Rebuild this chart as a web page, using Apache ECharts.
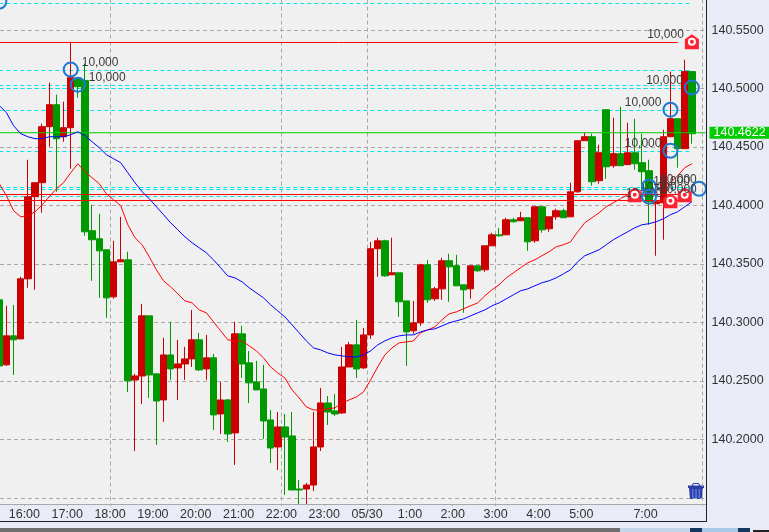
<!DOCTYPE html>
<html><head><meta charset="utf-8">
<style>html,body{margin:0;padding:0;background:#e9ecf6;overflow:hidden}#c{width:769px;height:532px}</style>
<script src="https://cdn.jsdelivr.net/npm/echarts@6/dist/echarts.min.js"></script>
</head><body><div id="c"></div>
<script>
const base = 140;
const opens = [.3193,.2637,.2885,.2859,.3373,.4075,.4195,.4674,.4862,.4588,.4665,.5085,.5068,.3784,.3715,.3621,.3219,.3518,.3535,.2508,.2542,.3056,.2560,.2337,.2722,.2611,.2645,.2688,.2851,.2602,.2697,.2217,.2337,.2055,.2902,.2654,.2491,.2431,.2166,.1935,.2106,.2029,.1575,.1575,.1609,.1935,.2311,.2243,.2226,.2619,.2808,.2611,.2893,.3630,.3698,.3407,.3424,.3184,.2928,.2996,.3493,.3202,.3287,.3527,.3484,.3321,.3287,.3484,.3450,.3655,.3749,.3749,.3878,.3869,.3895,.3698,.3989,.3801,.3903,.3955,.3903,.4117,.4554,.4588,.4212,.4819,.4340,.4443,.4349,.4451,.4366,.4297,.4015,.4023,.4588,.4742,.4486,.5145];
const closes = [.2628,.2885,.2851,.3373,.4075,.4195,.4674,.4862,.4571,.4665,.5093,.5016,.3775,.3707,.3612,.3210,.3518,.3535,.2500,.2542,.3056,.2551,.2328,.2722,.2602,.2645,.2688,.2851,.2594,.2697,.2209,.2337,.2046,.2902,.2645,.2483,.2423,.2157,.1926,.2106,.2020,.1567,.1567,.1609,.1935,.2311,.2234,.2217,.2619,.2808,.2602,.2893,.3630,.3698,.3398,.3424,.3176,.2919,.2996,.3493,.3193,.3287,.3527,.3475,.3313,.3279,.3484,.3441,.3655,.3749,.3741,.3878,.3861,.3895,.3689,.3989,.3792,.3903,.3955,.3895,.4117,.4554,.4588,.4203,.4451,.4331,.4443,.4340,.4451,.4357,.4289,.4032,.4032,.4588,.4742,.4486,.5145,.4614];
const lows = [.2619,.2628,.2551,.2859,.3296,.3279,.3938,.4503,.4117,.4545,.4314,.4922,.3741,.3356,.3210,.3039,.3202,.3518,.2405,.1900,.2303,.2354,.1952,.2149,.2508,.2337,.2508,.2619,.2585,.2508,.2080,.2046,.1977,.1781,.2525,.2311,.2423,.2003,.1798,.1738,.1524,.1567,.1447,.1447,.1558,.1900,.2123,.2200,.2217,.2619,.2525,.2602,.2859,.3390,.3390,.3407,.3047,.2628,.2902,.2970,.3167,.3184,.3193,.3176,.3313,.3082,.3202,.3433,.3433,.3655,.3732,.3749,.3852,.3869,.3612,.3681,.3767,.3775,.3878,.3895,.3903,.4109,.4554,.4169,.4186,.4229,.4323,.4340,.4349,.4306,.4135,.3835,.3570,.3707,.4588,.4323,.4486,.4528];
const highs = [.3193,.3142,.3150,.3390,.4391,.4195,.4700,.5051,.4948,.4888,.5401,.5085,.5213,.4006,.3929,.3621,.3698,.3903,.3604,.2560,.3159,.3056,.2560,.2868,.3005,.2851,.2791,.3107,.2911,.2893,.2731,.2491,.2346,.3005,.2970,.2756,.2671,.2637,.2251,.2234,.2217,.2234,.1652,.1627,.2234,.2440,.2371,.2388,.2791,.2833,.3022,.2953,.3689,.3724,.3707,.3724,.3424,.3184,.3184,.3501,.3535,.3304,.3553,.3587,.3578,.3321,.3484,.3484,.3655,.3767,.3809,.3895,.3895,.3946,.3895,.3989,.3989,.3903,.3972,.3972,.4195,.4554,.4623,.4614,.4520,.4819,.4751,.4845,.4708,.4742,.4614,.4391,.4135,.4648,.5145,.4742,.5247,.5145];
const maFast = [.4186,.4083,.3955,.3903,.3912,.3946,.4006,.4075,.4143,.4195,.4280,.4357,.4289,.4237,.4186,.4100,.4049,.3998,.3835,.3724,.3664,.3561,.3450,.3356,.3304,.3244,.3184,.3167,.3107,.3082,.3005,.2928,.2851,.2842,.2842,.2799,.2756,.2697,.2619,.2568,.2525,.2423,.2354,.2277,.2251,.2251,.2260,.2269,.2311,.2337,.2363,.2405,.2508,.2619,.2722,.2782,.2825,.2833,.2842,.2911,.2936,.2962,.3022,.3073,.3090,.3116,.3142,.3167,.3227,.3279,.3321,.3381,.3424,.3467,.3510,.3535,.3570,.3604,.3647,.3664,.3689,.3775,.3852,.3895,.3938,.3989,.4023,.4058,.4092,.4117,.4126,.4135,.4135,.4169,.4195,.4254,.4323,.4357];
const maSlow = [.4854,.4794,.4682,.4614,.4588,.4571,.4571,.4588,.4588,.4588,.4605,.4631,.4597,.4545,.4494,.4434,.4400,.4366,.4280,.4195,.4117,.4058,.3989,.3921,.3852,.3792,.3732,.3681,.3638,.3595,.3535,.3467,.3398,.3381,.3347,.3296,.3253,.3210,.3150,.3099,.3047,.2979,.2911,.2842,.2782,.2765,.2739,.2722,.2714,.2705,.2705,.2722,.2756,.2808,.2842,.2868,.2885,.2893,.2893,.2919,.2936,.2945,.2970,.2996,.3013,.3030,.3056,.3082,.3107,.3142,.3167,.3202,.3236,.3270,.3287,.3313,.3339,.3356,.3381,.3415,.3450,.3518,.3570,.3595,.3621,.3664,.3707,.3741,.3775,.3809,.3835,.3844,.3861,.3886,.3921,.3946,.3989,.4032];
const tickLabels = ['16:00','17:00','18:00','19:00','20:00','21:00','22:00','23:00','05/30','1:00','2:00','3:00','4:00','5:00','7:00'];
const tickSlots = [4,10,16,22,28,34,40,46,52,58,64,70,76,82,91];
const dashedTimes = ['18:00','22:00','05/30','3:00'];
const priceTicks = [140.15,140.20,140.25,140.30,140.35,140.40,140.45,140.50,140.55];
const priceLabels = [140.20,140.25,140.30,140.35,140.40,140.45,140.50,140.55];
const currentPrice = 140.4622;
const redLevels = [.5397,.4096,.4046];
const redLevelEnds = [95,96,96];
const cyanLevels = [.5731,.5158,.5029,.4999,.4817,.4466,.4152,.4135,.4081];
const lot = 10000;
const ringsLabelRight = [[0,.5744],[10,.5162],[11,.5033],[91,.4160],[91,.4075]];
const ringsLabelLeft = [[94,.4819],[94,.4468],[97,.5008],[98,.4143]];
const housesLabelled = [[97,.5401],[94,.4040],[96,.4092]];
const housesPlain = [[89,.4092]];

const px = v => +(base + v).toFixed(4);
const slotCount = 99;
const categories = Array.from({length: slotCount}, (_, i) => {
  const k = tickSlots.indexOf(i); return k >= 0 ? tickLabels[k] : '';
});
const candles = opens.map((o, i) => [px(o), px(closes[i]), px(lows[i]), px(highs[i])]);
const yMin = 140.1447, yMax = 140.5761;
const font = '"Liberation Sans", Arial, sans-serif';
const grey = '#a8a8a8';
const hasLabel = (i, v) => v !== '';
const pts = a => a.map(([i, v]) => [i, px(v), lot]);
const lotLabel = p => p.value[2].toLocaleString('en-US');
const lblStyle = {show: true, formatter: lotLabel, color: '#3a3a3a', fontSize: 12, fontFamily: font};
const ring = {color: 'rgba(0,0,0,0)', borderColor: '#1f78d2', borderWidth: 2};
const housePath = 'path://M0 5 L6.5 0 L13 5 L13 15 L0 15 Z';
const tb = (x, y, w, h, fill) => ({type: 'rect', shape: {x, y, width: w, height: h}, style: {fill}, z: 20, silent: true});

const chart = echarts.init(document.getElementById('c'), null, {renderer: 'canvas', width: 769, height: 532});
chart.setOption({
  animation: false,
  backgroundColor: '#e9ecf6',
  grid: [
    {left: -4.26, top: -0.44, width: slotCount * 7.14, height: 504.44, outerBoundsMode: 'none'},
    {left: 0, top: -0.44, width: 705.5, height: 504.44, show: true, backgroundColor: '#f0f0f0', borderWidth: 0, z: -1, outerBoundsMode: 'none'}
  ],
  xAxis: [
    {type: 'category', gridIndex: 0, data: categories, boundaryGap: true,
     axisLine: {show: false},
     axisTick: {show: true, interval: hasLabel, length: 2, lineStyle: {color: grey}},
     axisLabel: {show: true, interval: hasLabel, margin: 4, padding: [0, 7, 0, 0], color: '#333', fontSize: 12.5, fontFamily: font},
     splitLine: {show: true, interval: (i, v) => dashedTimes.includes(v), lineStyle: {color: grey, type: [4, 3], width: 1}}},
    {type: 'value', gridIndex: 1, min: 0, max: 1,
     axisLine: {show: true, onZero: false, lineStyle: {color: grey, width: 1}},
     axisTick: {show: false}, axisLabel: {show: false}, splitLine: {show: false}}
  ],
  yAxis: [
    {type: 'value', gridIndex: 0, min: yMin, max: yMax, show: false, scale: true, splitLine: {show: false}},
    {type: 'value', gridIndex: 1, min: yMin, max: yMax, position: 'right', scale: true,
     axisLine: {show: false}, axisTick: {show: false, customValues: priceTicks},
     axisLabel: {show: true, customValues: priceLabels, margin: 6, color: '#333', fontSize: 12.5, fontFamily: font, formatter: v => v.toFixed(4)},
     splitLine: {show: true, lineStyle: {color: grey, type: [4, 3], width: 1}}}
  ],
  series: [
    {name: 'USDJPY', type: 'candlestick', xAxisIndex: 0, yAxisIndex: 0, data: candles, barWidth: 7, z: 3,
     itemStyle: {color: '#cc0000', color0: '#009900', borderColor: '#cc0000', borderColor0: '#009900', borderWidth: 1},
     markLine: {silent: true, symbol: 'none', z: 1, label: {show: false},
       lineStyle: {color: '#00e5e5', type: [4, 3], width: 1},
       data: cyanLevels.map(v => [{xAxis: 0, yAxis: px(v)}, {xAxis: 97, yAxis: px(v)}])}},
    {name: 'MA fast', type: 'line', xAxisIndex: 0, yAxisIndex: 0, data: maFast.map(px), showSymbol: false, symbol: 'none', z: 5,
     lineStyle: {color: '#ff0000', width: 1},
     markLine: {silent: true, symbol: 'none', z: 4, label: {show: false},
       lineStyle: {color: '#ff0000', type: 'solid', width: 1},
       data: redLevels.map((v, k) => [{xAxis: 0, yAxis: px(v)}, {xAxis: redLevelEnds[k], yAxis: px(v)}])}},
    {name: 'MA slow', type: 'line', xAxisIndex: 0, yAxisIndex: 0, data: maSlow.map(px), showSymbol: false, symbol: 'none', z: 5,
     lineStyle: {color: '#0000ff', width: 1}},
    {name: 'Price', type: 'line', xAxisIndex: 1, yAxisIndex: 1, data: [[0, currentPrice], [1, currentPrice]], showSymbol: false, symbol: 'none', z: 4, clip: false,
     lineStyle: {color: '#00cc00', width: 1},
     endLabel: {show: true, formatter: () => currentPrice.toFixed(4), distance: 4, color: '#fff', backgroundColor: '#00cc00',
       fontSize: 12.5, fontFamily: font, padding: [0, 4, 0, 4], lineHeight: 12, height: 12}},
    {name: 'Houses', type: 'scatter', xAxisIndex: 0, yAxisIndex: 0, symbol: housePath, symbolSize: [14, 15], data: pts(housesLabelled), z: 6,
     itemStyle: {color: '#ff2233', opacity: 1}, label: {...lblStyle, position: 'left', distance: 1, offset: [0, -7]}},
    {name: 'Houses plain', type: 'scatter', xAxisIndex: 0, yAxisIndex: 0, symbol: housePath, symbolSize: [14, 15], data: pts(housesPlain), z: 6,
     itemStyle: {color: '#ff2233', opacity: 1}},
    {name: 'House eyes', type: 'scatter', xAxisIndex: 0, yAxisIndex: 0, symbol: 'circle', symbolSize: 6, data: pts(housesLabelled.concat(housesPlain)), z: 7,
     itemStyle: {color: '#ff2233', borderColor: '#fff', borderWidth: 2, opacity: 1}},
    {name: 'Rings right', type: 'scatter', xAxisIndex: 0, yAxisIndex: 0, symbol: 'circle', symbolSize: 14, data: pts(ringsLabelRight), z: 8, clip: false,
     itemStyle: {...ring, opacity: 1}, label: {...lblStyle, position: 'right', distance: 3, offset: [0, -7]}},
    {name: 'Rings left', type: 'scatter', xAxisIndex: 0, yAxisIndex: 0, symbol: 'circle', symbolSize: 14, data: pts(ringsLabelLeft), z: 8, clip: false,
     itemStyle: {...ring, opacity: 1}, label: {...lblStyle, position: 'left', distance: 1, offset: [0, -7]}}
  ],
  graphic: {elements: [
    tb(706, 0, 1, 522, '#222'),
    tb(0, 521, 707, 1, '#222'),
    tb(0, 528, 620, 4, '#6e6e6e'),
    tb(620, 528, 70, 4, '#c3d6ea'),
    tb(690, 528, 12, 4, '#14375f'),
    tb(702, 528, 36, 4, '#a9c8e6'),
    tb(738, 528, 12, 4, '#14375f'),
    tb(753, 530, 16, 2, '#222'),
    {type: 'group', x: 688, y: 483, silent: true, z: 20, children: [
      {type: 'rect', shape: {x: 4.5, y: 0.5, width: 7, height: 3, r: 1.5}, style: {fill: 'none', stroke: '#2b3fa8', lineWidth: 1}},
      {type: 'rect', shape: {x: 0, y: 2.5, width: 16, height: 2.5}, style: {fill: '#2b3fa8'}},
      {type: 'polygon', shape: {points: [[1, 5], [15, 5], [14, 16], [2, 16]]}, style: {fill: '#2b3fa8'}},
      {type: 'rect', shape: {x: 4, y: 6, width: 1.5, height: 9}, style: {fill: '#5f78e0'}},
      {type: 'rect', shape: {x: 7.3, y: 6, width: 1.5, height: 9}, style: {fill: '#5f78e0'}},
      {type: 'rect', shape: {x: 10.6, y: 6, width: 1.5, height: 9}, style: {fill: '#5f78e0'}}
    ]}
  ]}
});
</script></body></html>
